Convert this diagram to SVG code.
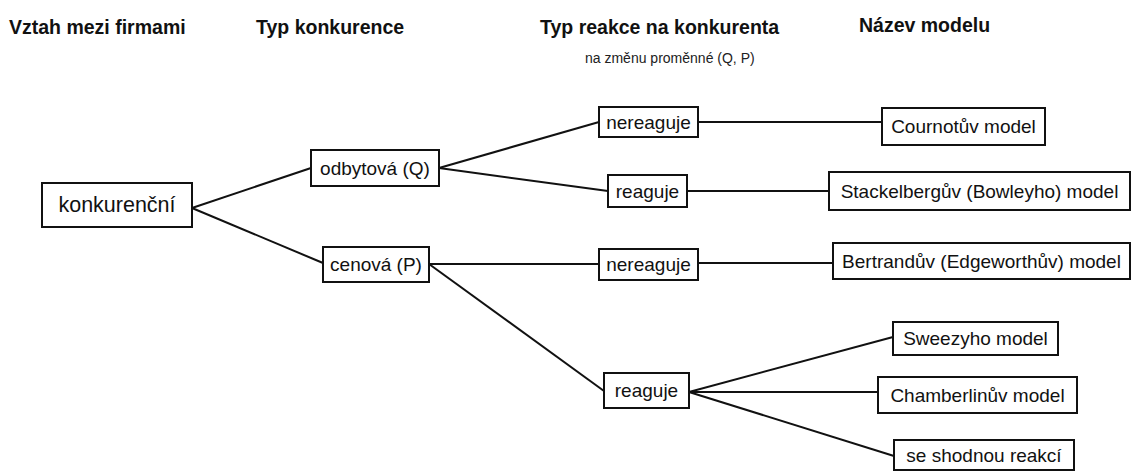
<svg xmlns="http://www.w3.org/2000/svg" width="1133" height="471" viewBox="0 0 1133 471">
<style>
.h{font-family:"Liberation Sans",Arial,sans-serif;font-weight:bold;font-size:19.5px;fill:#111}
.sub{font-family:"Liberation Sans",Arial,sans-serif;font-size:14px;fill:#222}
.box{fill:#fff;stroke:#111;stroke-width:2}
.t{font-family:"Liberation Sans",Arial,sans-serif;font-size:19px;fill:#111;text-anchor:middle}
.ln{stroke:#111;stroke-width:2;fill:none}
</style>
<rect width="1133" height="471" fill="#fff"/>
<g id="headers">
<text class="h" x="9" y="34">Vztah mezi firmami</text>
<text class="h" x="256" y="34">Typ konkurence</text>
<text class="h" x="540" y="34">Typ reakce na konkurenta</text>
<text class="h" x="859" y="32">Název modelu</text>
<text class="sub" x="585" y="63">na změnu proměnné (Q, P)</text>
</g>
<g id="connectors">
<line class="ln" x1="192" y1="208" x2="311" y2="168"/>
<line class="ln" x1="192" y1="208" x2="323" y2="263"/>
<line class="ln" x1="439" y1="168" x2="599" y2="122"/>
<line class="ln" x1="439" y1="168" x2="608" y2="191"/>
<line class="ln" x1="698" y1="122" x2="882" y2="122"/>
<line class="ln" x1="687" y1="191" x2="829" y2="191"/>
<line class="ln" x1="429" y1="264" x2="599" y2="264"/>
<line class="ln" x1="698" y1="263" x2="833" y2="263"/>
<line class="ln" x1="429" y1="264" x2="604" y2="391"/>
<line class="ln" x1="689" y1="392" x2="893" y2="337"/>
<line class="ln" x1="689" y1="392" x2="878" y2="392"/>
<line class="ln" x1="689" y1="392" x2="894" y2="456"/>
</g>
<g id="n-konkurencni"><rect class="box" x="42" y="183" width="150" height="44"/><text class="t" x="117" y="212" style="font-size:21.5px">konkurenční</text></g>
<g id="n-odbytova"><rect class="box" x="311" y="150" width="128" height="36"/><text class="t" x="375" y="174.5">odbytová (Q)</text></g>
<g id="n-cenova"><rect class="box" x="323" y="247" width="106" height="35"/><text class="t" x="376" y="271">cenová (P)</text></g>
<g id="n-nereaguje1"><rect class="box" x="599" y="107" width="99" height="30"/><text class="t" x="648.5" y="128.5">nereaguje</text></g>
<g id="n-reaguje1"><rect class="box" x="608" y="175" width="79" height="32"/><text class="t" x="647.5" y="197.5">reaguje</text></g>
<g id="n-nereaguje2"><rect class="box" x="599" y="249" width="99" height="31"/><text class="t" x="648.5" y="271">nereaguje</text></g>
<g id="n-reaguje2"><rect class="box" x="604" y="373" width="85" height="35"/><text class="t" x="646.5" y="397">reaguje</text></g>
<g id="n-cournot"><rect class="box" x="882" y="108" width="163" height="37"/><text class="t" x="963.5" y="133">Cournotův model</text></g>
<g id="n-stackelberg"><rect class="box" x="829" y="172" width="301" height="38"/><text class="t" x="979.5" y="197.5">Stackelbergův (Bowleyho) model</text></g>
<g id="n-bertrand"><rect class="box" x="833" y="243" width="297" height="36"/><text class="t" x="981.5" y="267.5">Bertrandův (Edgeworthův) model</text></g>
<g id="n-sweezy"><rect class="box" x="893" y="322" width="165" height="33"/><text class="t" x="975.5" y="345">Sweezyho model</text></g>
<g id="n-chamberlin"><rect class="box" x="878" y="377" width="199" height="36"/><text class="t" x="977.5" y="401.5">Chamberlinův model</text></g>
<g id="n-shodna"><rect class="box" x="894" y="440" width="180" height="30"/><text class="t" x="984" y="461.5">se shodnou reakcí</text></g>
</svg>
